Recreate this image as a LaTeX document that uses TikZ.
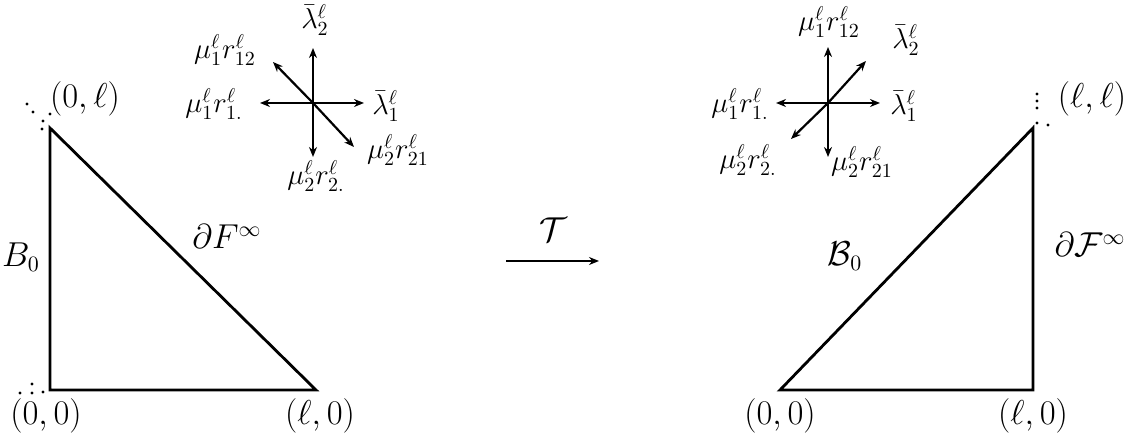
\documentclass[tikz,border=0pt]{standalone}
\usetikzlibrary{arrows.meta}
\begin{document}
\begin{tikzpicture}[x=0.5pt,y=-0.5pt,
  edge/.style={line width=1.4pt},
  vec/.style={line width=1.1pt,-{Stealth[length=5pt,width=4pt]}},
  lbl/.style={inner sep=0pt,font=\fontsize{14}{16}\selectfont},
  big/.style={inner sep=0pt,font=\fontsize{16}{18}\selectfont},
  spot/.style={fill=black,draw=none}]
\useasboundingbox (0,0) rectangle (1139,442);
% left triangle
\coordinate (LA) at (50,128);
\coordinate (LB) at (50,390);
\coordinate (LC) at (316,390);
\draw[edge,line join=miter] (LA) -- (LB) -- (LC) -- cycle;
\node[big] (l00) at (46,416) {$(0,0)$};
\node[big] (ll0) at (320,416) {$(\ell,0)$};
\node[big] (l0l) at (85,99) {$(0,\ell)$};
\node[big] (lB) at (21,257) {$B_0$};
\node[big] (lF) at (227,237) {$\partial F^\infty$};
\foreach \p in {(27,104),(33,112),(43,121),(42,129),(50,114)} \fill[spot] \p circle (1.6);
\foreach \p in {(20,393),(32,384),(32,393),(43,392)} \fill[spot] \p circle (1.6);
% left star
\coordinate (LS) at (313,103);
\coordinate (LSu) at (313,48);
\coordinate (LSd) at (313,157);
\coordinate (LSl) at (260,103);
\coordinate (LSr) at (364,103);
\coordinate (LSul) at (273,62);
\coordinate (LSdr) at (354,147);
\foreach \e in {LSu,LSd,LSl,LSr,LSul,LSdr} \draw[vec] (LS) -- (\e);
\node[lbl] (a1) at (315,20) {$\bar\lambda_2^\ell$};
\node[lbl] (a2) at (225,50) {$\mu_1^\ell r_{12}^\ell$};
\node[lbl] (a3) at (214,104) {$\mu_1^\ell r_{1.}^\ell$};
\node[lbl] (a4) at (386,106) {$\bar\lambda_1^\ell$};
\node[lbl] (a5) at (398,150) {$\mu_2^\ell r_{21}^\ell$};
\node[lbl] (a6) at (316,176) {$\mu_2^\ell r_{2.}^\ell$};
% mapping arrow
\coordinate (T1) at (506,261);
\coordinate (T2) at (599,261);
\draw[vec] (T1) -- (T2);
\node[big] (T) at (553,230) {$\mathcal{T}$};
% right triangle
\coordinate (RA) at (780,390);
\coordinate (RB) at (1033,390);
\coordinate (RC) at (1033,128);
\draw[edge,line join=miter] (RA) -- (RB) -- (RC) -- cycle;
\node[big] (r00) at (780,416) {$(0,0)$};
\node[big] (rl0) at (1033,416) {$(\ell,0)$};
\node[big] (rll) at (1092,99) {$(\ell,\ell)$};
\node[big] (rB) at (845,256) {$\mathcal{B}_0$};
\node[big] (rF) at (1090,245) {$\partial\mathcal{F}^\infty$};
\foreach \p in {(1037,94),(1037,101),(1037,108),(1037,123),(1048,125)} \fill[spot] \p circle (1.6);
% right star
\coordinate (RS) at (828,103);
\coordinate (RSu) at (828,47);
\coordinate (RSd) at (828,157);
\coordinate (RSl) at (776,103);
\coordinate (RSr) at (880,103);
\coordinate (RSur) at (866,61);
\coordinate (RSdl) at (791,139);
\foreach \e in {RSu,RSd,RSl,RSr,RSur,RSdl} \draw[vec] (RS) -- (\e);
\node[lbl] (b1) at (829,22) {$\mu_1^\ell r_{12}^\ell$};
\node[lbl] (b2) at (906,40) {$\bar\lambda_2^\ell$};
\node[lbl] (b3) at (740,104) {$\mu_1^\ell r_{1.}^\ell$};
\node[lbl] (b4) at (904,106) {$\bar\lambda_1^\ell$};
\node[lbl] (b5) at (748,160) {$\mu_2^\ell r_{2.}^\ell$};
\node[lbl] (b6) at (862,162) {$\mu_2^\ell r_{21}^\ell$};
\end{tikzpicture}
\end{document}
